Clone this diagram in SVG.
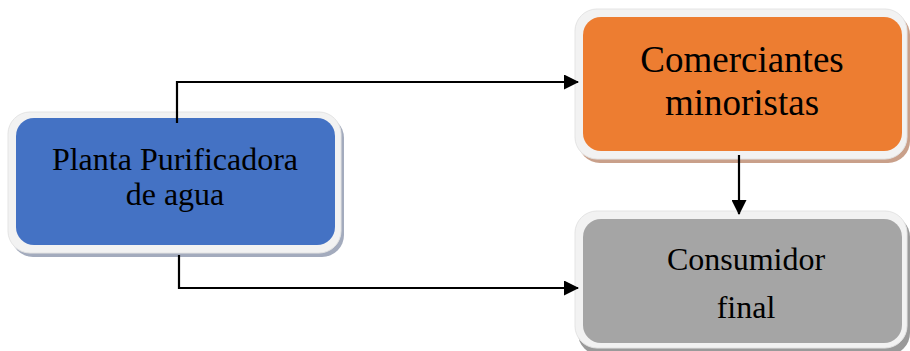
<svg xmlns="http://www.w3.org/2000/svg" width="910" height="351" viewBox="0 0 910 351">
<style>
.frame{fill:#f2f2f2;stroke:#e4e4e4;stroke-width:1}
.lbl{font-family:"Liberation Serif","Times New Roman",serif;fill:#000;text-anchor:middle}
.conn{fill:none;stroke:#000;stroke-width:2.2}
</style>
<defs>
<marker id="ah" markerWidth="15" markerHeight="15" refX="14" refY="7.5" orient="auto" markerUnits="userSpaceOnUse">
<path d="M0,0 L15,7.5 L0,15 Z" fill="#000"/>
</marker>
</defs>
<rect width="910" height="351" fill="#fff"/>
<g id="planta">
<rect x="11" y="116" width="333" height="141" rx="22" fill="#a3abbd"/>
<rect class="frame" x="8" y="112" width="333" height="141" rx="22"/>
<rect x="16" y="118" width="319" height="127" rx="18" fill="#4472c4"/>
<text class="lbl" x="175" y="170" font-size="32">Planta Purificadora</text>
<text class="lbl" x="175" y="205" font-size="32">de agua</text>
</g>
<g id="comerciantes">
<rect x="578" y="13" width="332" height="150" rx="22" fill="#c9a08a"/>
<rect class="frame" x="575" y="9" width="332" height="150" rx="22"/>
<rect x="583" y="17" width="319" height="134" rx="18" fill="#ed7d31"/>
<text class="lbl" x="742" y="72" font-size="37">Comerciantes</text>
<text class="lbl" x="742" y="115" font-size="37">minoristas</text>
</g>
<g id="consumidor">
<rect x="578" y="215" width="332" height="140" rx="22" fill="#9a9a9a"/>
<rect class="frame" x="575" y="211" width="332" height="137" rx="22"/>
<rect x="583" y="219" width="319" height="124" rx="18" fill="#a5a5a5"/>
<text class="lbl" x="746" y="270" font-size="32">Consumidor</text>
<text class="lbl" x="746" y="318" font-size="32">final</text>
</g>
<g id="connectors">
<path class="conn" d="M177,123 V82 H578" marker-end="url(#ah)"/>
<path class="conn" d="M179,255 V288 H578" marker-end="url(#ah)"/>
<path class="conn" d="M739,155 V214" marker-end="url(#ah)"/>
</g>
</svg>
